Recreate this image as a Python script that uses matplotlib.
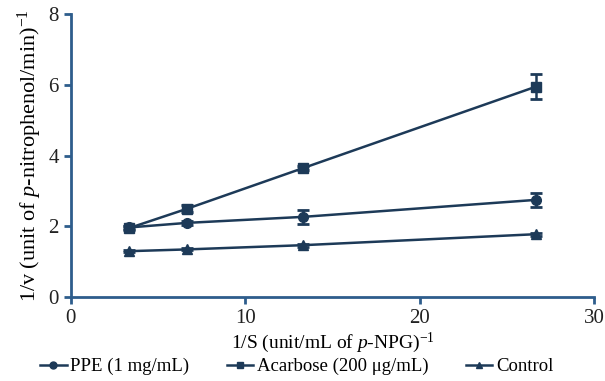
import matplotlib

matplotlib.use("Agg")
import matplotlib.pyplot as plt
from matplotlib.lines import Line2D

plt.rcParams["font.family"] = ["Liberation Serif", "DejaVu Serif"]
plt.rcParams["mathtext.fontset"] = "custom"
plt.rcParams["mathtext.it"] = "Liberation Serif:italic"
plt.rcParams["mathtext.rm"] = "Liberation Serif"

# Lineweaver-Burk data
inv_s = [3.33, 6.67, 13.33, 26.67]
ppe = [1.97, 2.1, 2.27, 2.75]
ppe_err = [0.05, 0.06, 0.2, 0.2]
acarbose = [1.95, 2.5, 3.65, 5.95]
acarbose_err = [0.05, 0.1, 0.05, 0.35]
control = [1.3, 1.35, 1.47, 1.78]
control_err = [0.03, 0.03, 0.04, 0.04]
labels = ["PPE (1 mg/mL)", "Acarbose (200 μg/mL)", "Control"]
markers = ["o", "s", "^"]

LINE = "#1d3a58"
AXIS = "#2e5d8c"

fig = plt.figure(figsize=(6.05, 3.81), dpi=100)
ax = fig.add_axes([0.117, 0.22, 0.865, 0.743])

common = dict(color=LINE, lw=1.8, capsize=4, capthick=2, elinewidth=1.8, markersize=7)
for ys, err, m in zip([ppe, acarbose, control], [ppe_err, acarbose_err, control_err], markers):
    ax.errorbar(inv_s, ys, yerr=err, marker=m, **common)

ax.set_xlim(0, 30)
ax.set_ylim(0, 8)
ax.set_xticks([0, 10, 20, 30])
ax.set_yticks([0, 2, 4, 6, 8])
for side in ("top", "right"):
    ax.spines[side].set_visible(False)
for side in ("left", "bottom"):
    ax.spines[side].set_color(AXIS)
    ax.spines[side].set_linewidth(2)
ax.tick_params(colors=AXIS, width=2, length=5, labelsize=15, labelcolor="#222222")

ax.set_xlabel(r"1/S (unit/mL of $\mathit{p}$-NPG)$^{\mathregular{-1}}$", fontsize=14, labelpad=2)
ax.set_ylabel(r"1/v (unit of $\mathit{p}$-nitrophenol/min)$^{\mathregular{-1}}$", fontsize=16, labelpad=3)

handles = [Line2D([], [], color=LINE, lw=1.8, marker=m, markersize=5) for m in markers]
ax.legend(handles, labels, loc="upper center", bbox_to_anchor=(0.432, -0.155), ncol=3, frameon=False,
          fontsize=13.5, handlelength=1.4, handletextpad=0.2, columnspacing=2.0)

fig.savefig("out.png", dpi=100)
